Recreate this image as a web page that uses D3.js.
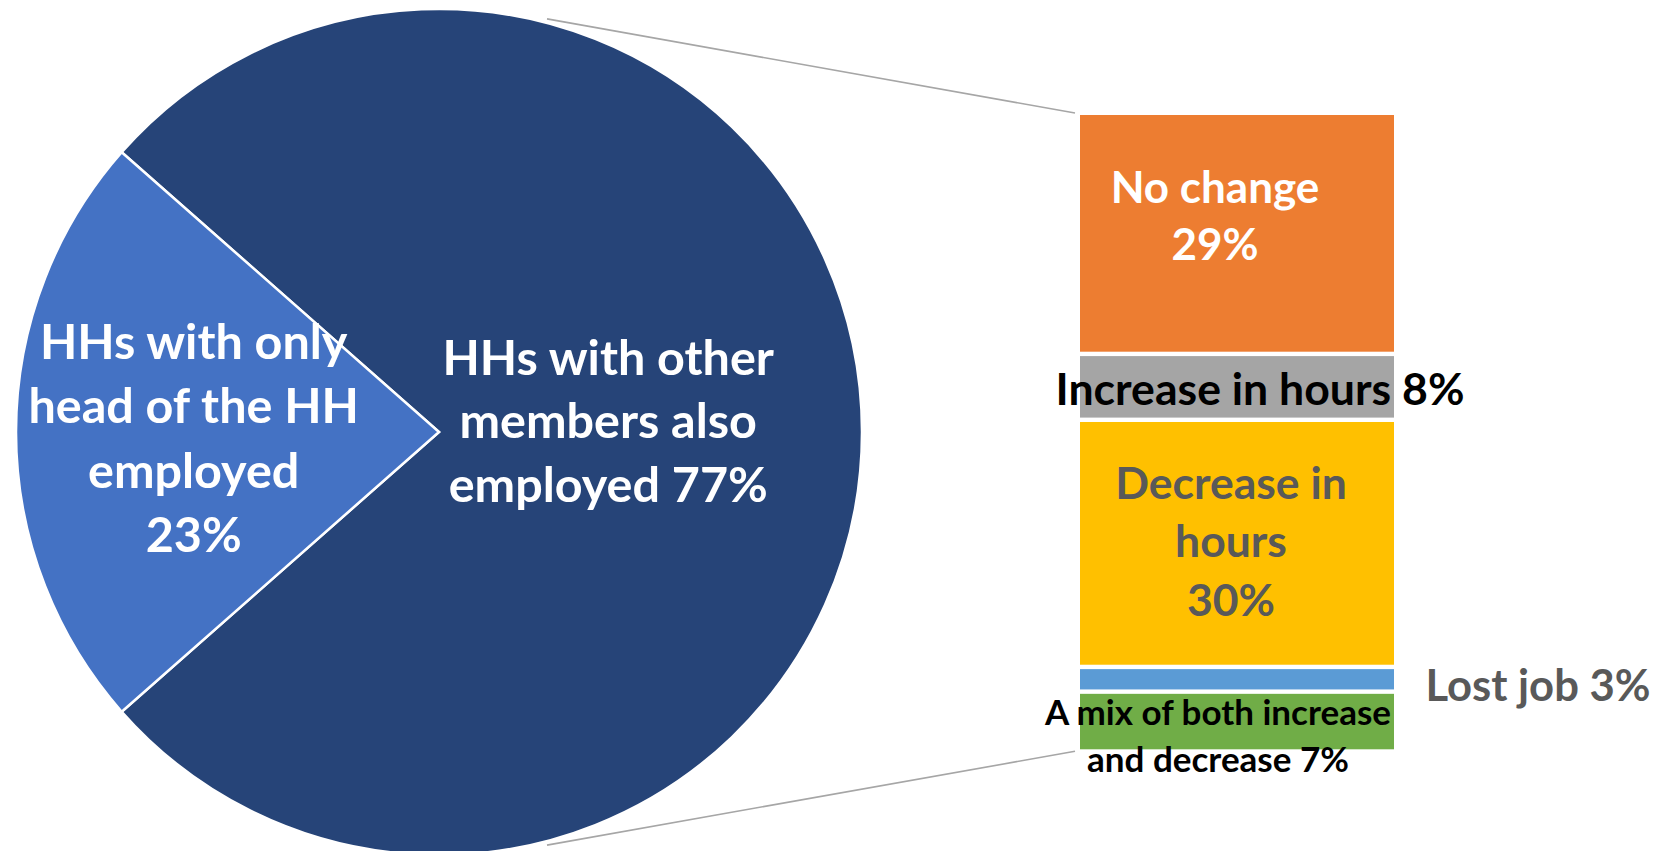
<!DOCTYPE html>
<html>
<head>
<meta charset="utf-8">
<script src="https://cdn.jsdelivr.net/npm/d3@7"></script>
<style>
  html, body { margin: 0; padding: 0; background: #ffffff; }
  svg { display: block; }
  text { font-family: Lato, "Open Sans", sans-serif; font-weight: 700; }
</style>
</head>
<body>
<svg id="chart" width="1665" height="851"></svg>
<script>
// ---- data ----
const pieCategories = [
  "HHs with other members also employed",
  "HHs with only head of the HH employed"
];
const pieValues = [77, 23];
const pieLabelLines = [
  ["HHs with other", "members also", "employed 77%"],
  ["HHs with only", "head of the HH", "employed", "23%"]
];

const barCategories = [
  "No change",
  "Increase in hours",
  "Decrease in hours",
  "Lost job",
  "A mix of both increase and decrease"
];
const barValues = [29, 8, 30, 3, 7];
const barLabelLines = [
  ["No change", "29%"],
  ["Increase in hours 8%"],
  ["Decrease in", "hours", "30%"],
  ["Lost job 3%"],
  ["A mix of both increase", "and decrease 7%"]
];

// ---- styling ----
const pieColors = ["#264478", "#4472C4"];
const barColors = ["#ED7D31", "#A5A5A5", "#FFC000", "#5B9BD5", "#70AD47"];

const svg = d3.select("#chart");

// ---- pie ----
const cx = 439, cy = 432, R = 423;
const total = d3.sum(pieValues);
// the large slice is centred on the 3 o'clock direction, facing the bar
const start = Math.PI / 2 - Math.PI * pieValues[0] / total;
const pie = d3.pie().sort(null).startAngle(start).endAngle(start + 2 * Math.PI);
const arcs = pie(pieValues);
const arc = d3.arc().innerRadius(0).outerRadius(R);

const gPie = svg.append("g").attr("transform", `translate(${cx},${cy})`);

// connector lines from the pie to the top and bottom of the bar
const bar = { x0: 1080, x1: 1394, y0: 115, y1: 749.3, gap: 4.4 };
const connAngle = 0.2557, connR = R + 4;
const conn = [
  [[cx + connR * Math.sin(connAngle), cy - connR * Math.cos(connAngle)], [bar.x0 - 5, bar.y0 - 2]],
  [[cx + connR * Math.sin(connAngle), cy + connR * Math.cos(connAngle)], [bar.x0 - 5, bar.y1 + 2]]
];
svg.selectAll("line.conn").data(conn).join("line")
  .attr("class", "conn")
  .attr("x1", d => d[0][0]).attr("y1", d => d[0][1])
  .attr("x2", d => d[1][0]).attr("y2", d => d[1][1])
  .attr("stroke", "#A6A6A6").attr("stroke-width", 1.6);

gPie.selectAll("path").data(arcs).join("path")
  .attr("d", arc)
  .attr("fill", (d, i) => pieColors[i])
  .attr("stroke", "#ffffff")
  .attr("stroke-width", 2.5)
  .attr("stroke-linejoin", "miter");

// pie labels: anchored on a centroid ring inside each slice
const pieLabelCfg = [
  { r: 0.40, dy: -10, size: 48.5, lh: 63.5, cap: 32 },
  { r: 0.58, dy: 7.5, size: 48.5, lh: 64.6, cap: 32 }
];
arcs.forEach((a, i) => {
  const cfg = pieLabelCfg[i];
  const la = d3.arc().innerRadius(R * cfg.r).outerRadius(R * cfg.r);
  const [lx, ly] = la.centroid(a);
  const lines = pieLabelLines[i];
  const t = gPie.append("text")
    .attr("text-anchor", "middle")
    .attr("fill", "#ffffff")
    .attr("font-size", cfg.size);
  lines.forEach((s, j) => {
    t.append("tspan")
      .attr("x", lx)
      .attr("y", ly + cfg.dy + (j - (lines.length - 1) / 2) * cfg.lh + cfg.cap / 2)
      .text(s);
  });
});

// ---- bar of the split slice ----
const y = d3.scaleLinear().domain([0, d3.sum(barValues)]).range([bar.y0, bar.y1]);
let acc = 0;
const segs = barValues.map((v, i) => {
  const s = { i, v, a: acc, b: acc + v };
  acc += v;
  return s;
});
const n = segs.length;
svg.selectAll("rect.seg").data(segs).join("rect")
  .attr("class", "seg")
  .attr("x", bar.x0)
  .attr("width", bar.x1 - bar.x0)
  .attr("y", d => y(d.a) + (d.i > 0 ? bar.gap / 2 : 0))
  .attr("height", d => y(d.b) - y(d.a) - (d.i > 0 ? bar.gap / 2 : 0) - (d.i < n - 1 ? bar.gap / 2 : 0))
  .attr("fill", d => barColors[d.i]);

// bar labels, placed relative to each segment's centre
const barLabelCfg = [
  { dx: -22, dy: -17, size: 44, lh: 57.3, cap: 28, color: "#ffffff" },
  { dx: 23, dy: 2.4, size: 44.6, lh: 50, cap: 31.6, color: "#000000" },
  { dx: -6, dy: -0.4, size: 44.5, lh: 58.7, cap: 29, color: "#595959" },
  { dx: 301, dy: 7.5, size: 43.6, lh: 50, cap: 27.7, color: "#595959" },
  { dx: -19, dy: 17, size: 35, lh: 46.7, cap: 21.7, color: "#000000" }
];
const bcx = (bar.x0 + bar.x1) / 2;
segs.forEach(s => {
  const cfg = barLabelCfg[s.i];
  const lines = barLabelLines[s.i];
  const my = (y(s.a) + y(s.b)) / 2 + cfg.dy;
  const t = svg.append("text")
    .attr("text-anchor", "middle")
    .attr("fill", cfg.color)
    .attr("font-size", cfg.size);
  lines.forEach((str, j) => {
    t.append("tspan")
      .attr("x", bcx + cfg.dx)
      .attr("y", my + (j - (lines.length - 1) / 2) * cfg.lh + cfg.cap / 2)
      .text(str);
  });
});
</script>
</body>
</html>
